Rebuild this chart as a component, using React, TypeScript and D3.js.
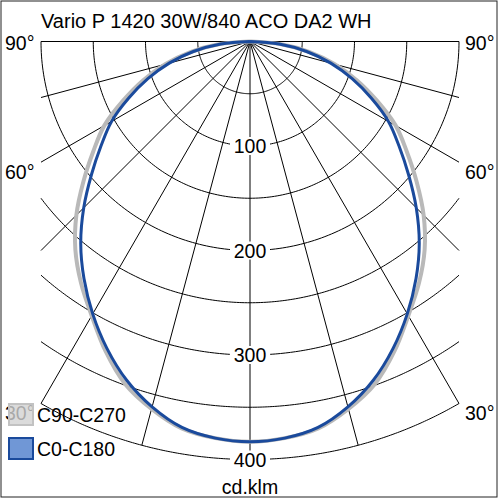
import React from "react";
import * as d3 from "d3";

const TITLE = "Vario P 1420 30W/840 ACO DA2 WH";
const UNIT = "cd.klm";
const ANGLES = [0, 5, 10, 15, 20, 25, 30, 35, 40, 45, 50, 55, 60, 65, 70, 75, 80, 85, 90];
const C0_C180 = [383, 381, 375, 362, 345, 324, 301, 277, 252, 225, 198, 174, 153, 128, 104, 80, 55, 28, 0];
const C90_C270 = [383, 381, 376, 364, 349, 327, 303, 282, 260, 235, 208, 183, 161, 134, 109, 84, 58, 30, 0];
const RING_VALUES = [50, 100, 150, 200, 250, 300, 350, 400];
const RING_LABELS = [100, 200, 300, 400];
const SPOKE_ANGLES = [0, 15, 30, 45, 60, 75, 90];
const ANGLE_LABELS = [90, 60, 30];
const SERIES = [
  { name: "C90-C270", values: C90_C270 },
  { name: "C0-C180", values: C0_C180 },
];

const W = 500;
const H = 500;
const CX = 250;
const CY = 41.5;
const HALF_W = 209;
const FONT = "'Liberation Sans', Arial, sans-serif";

export default function App() {
  const r = d3.scaleLinear().domain([0, 400]).range([0, 418]);
  const rad = (deg: number) => (deg * Math.PI) / 180;
  const pt = (deg: number, rr: number) => [CX + rr * Math.sin(rad(deg)), CY + rr * Math.cos(rad(deg))];

  const ringPaths = RING_VALUES.map((v) => {
    const rr = r(v);
    const maxA = rr <= HALF_W ? 90 : (Math.asin(HALF_W / rr) * 180) / Math.PI;
    const pts: [number, number][] = [];
    for (let i = 0; i <= 180; i++) {
      const a = -maxA + (2 * maxA * i) / 180;
      pts.push(pt(a, rr) as [number, number]);
    }
    return d3.line()(pts) as string;
  });

  const spokes: { x1: number; y1: number; x2: number; y2: number; a: number }[] = [];
  SPOKE_ANGLES.forEach((a) => {
    const s = Math.sin(rad(a));
    const len = s === 0 ? r(400) : Math.min(r(400), HALF_W / s);
    [-1, 1].forEach((sg) => {
      if (a === 0 && sg === 1) return;
      const [x2, y2] = pt(sg * a, len);
      spokes.push({ x1: CX, y1: CY, x2, y2, a: sg * a });
    });
  });

  const seriesPath = (vals: number[]) => {
    const pts: [number, number][] = [];
    for (let i = ANGLES.length - 1; i >= 0; i--) pts.push(pt(-ANGLES[i], r(vals[i])) as [number, number]);
    for (let i = 1; i < ANGLES.length; i++) pts.push(pt(ANGLES[i], r(vals[i])) as [number, number]);
    return d3.line().curve(d3.curveCatmullRom.alpha(0.5))(pts) as string;
  };

  const styles = [
    { stroke: "#b9b9b9", width: 4, fill: "#d2d2d2", fillOpacity: 0.8, sw: "#c2c2c2" },
    { stroke: "#1a4a9c", width: 3, fill: "#7097d6", fillOpacity: 1, sw: "#1a4a9c" },
  ];

  return (
    <div style={{ position: "fixed", left: 0, top: 0 }}>
      <svg width={W} height={H} style={{ display: "block", background: "#fff" }} fontFamily={FONT}>
        <rect x={0} y={0} width={W} height={H} fill="#fff" />
        <g fill="none" stroke="#000" strokeWidth={1}>
          {ringPaths.map((d, i) => (
            <path key={i} d={d} />
          ))}
          {spokes.map((s, i) => (
            <line key={i} x1={s.x1} y1={s.y1} x2={s.x2} y2={s.y2} />
          ))}
        </g>
        {SERIES.map((s, i) => (
          <path
            key={s.name}
            d={seriesPath(s.values)}
            fill="none"
            stroke={styles[i].stroke}
            strokeWidth={styles[i].width}
            strokeLinejoin="round"
          />
        ))}
        {RING_LABELS.map((v) => {
          const y = CY + r(v);
          return (
            <g key={v}>
              <rect x={CX - 20} y={y - 9} width={40} height={18} fill="#fff" />
              <text x={CX} y={y} textAnchor="middle" dominantBaseline="central" fontSize={19.5} fill="#000">
                {v}
              </text>
            </g>
          );
        })}
        {ANGLE_LABELS.map((a) => {
          const s = Math.sin(rad(a));
          const len = Math.min(r(400), HALF_W / s);
          const y = CY + len * Math.cos(rad(a)) + (a === 90 ? 1 : 10);
          return (
            <g key={a}>
              <text x={5} y={y} dominantBaseline="central" fontSize={19.5} fill="#000">
                {a}°
              </text>
              <text x={465} y={y} dominantBaseline="central" fontSize={19.5} fill="#000">
                {a}°
              </text>
            </g>
          );
        })}
        <text x={41} y={28} fontSize={20} fill="#000">
          {TITLE}
        </text>
        <text x={CX} y={494} textAnchor="middle" fontSize={19.5} fill="#000">
          {UNIT}
        </text>
        {SERIES.map((s, i) => (
          <g key={s.name}>
            <rect
              x={9}
              y={404 + i * 34}
              width={24}
              height={21}
              fill={styles[i].fill}
              fillOpacity={styles[i].fillOpacity}
              stroke={styles[i].sw}
              strokeWidth={2}
            />
            <text x={37} y={414.5 + i * 34} dominantBaseline="central" fontSize={19.5} fill="#000">
              {s.name}
            </text>
          </g>
        ))}
        <rect x={1} y={1} width={496} height={496} fill="none" stroke="#222" strokeWidth={1} />
      </svg>
    </div>
  );
}
